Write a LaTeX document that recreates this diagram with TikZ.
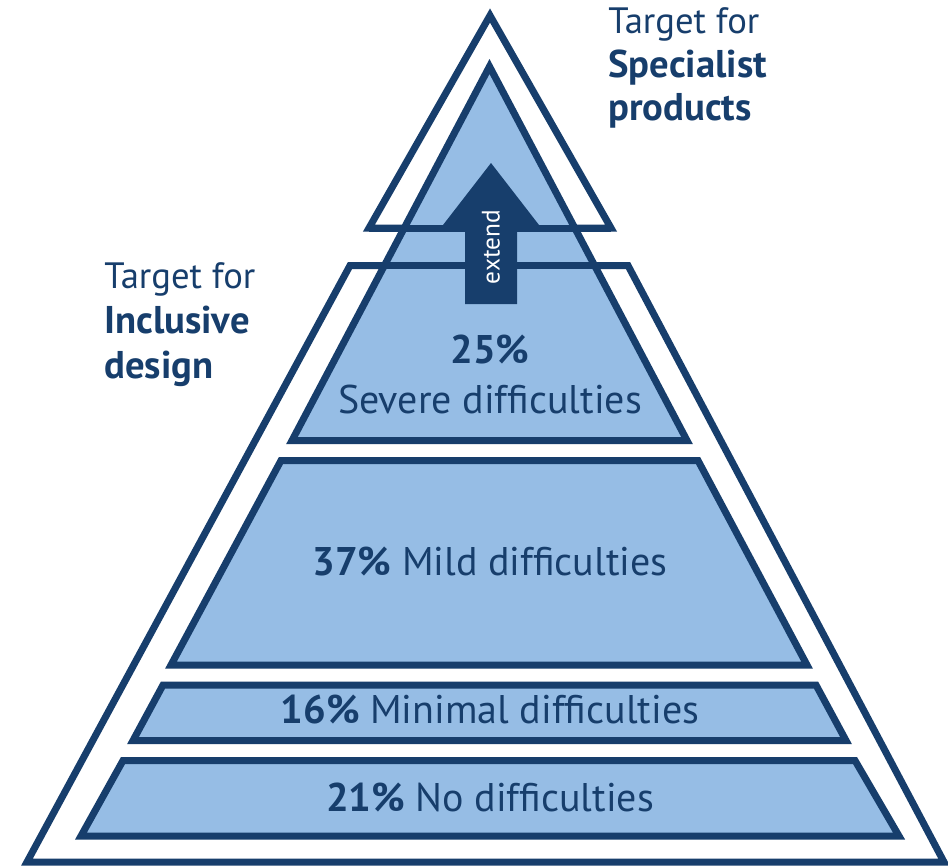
\documentclass[tikz,border=0pt]{standalone}
\usepackage{fontspec}
\setmainfont{PT Sans}
\definecolor{navy}{HTML}{173E6C}
\definecolor{fillblue}{HTML}{96BDE5}
\begin{document}
\begin{tikzpicture}[x=0.75pt,y=-0.75pt,line join=miter,
  outline/.style={draw=navy,line width=5.25pt},
  band/.style={fill=fillblue,draw=navy,line width=5.25pt},
  lbl/.style={text=navy,font=\fontsize{30}{36}\selectfont,inner sep=0pt,anchor=base},
  tgt/.style={text=navy,font=\fontsize{27.5}{32}\selectfont,inner sep=0pt,anchor=base west},
  tgtb/.style={text=navy,font=\fontsize{29}{32}\selectfont\bfseries,inner sep=0pt,anchor=base west}]
\useasboundingbox (0,0) rectangle (948,865);
% white outer shapes
\fill[white] (369,228) -- (490,15.5) -- (611,228) -- cycle;
\fill[white] (350,265.5) -- (628,265.5) -- (944,862) -- (27,862) -- cycle;
\draw[outline] (369,228) -- (490,15.5) -- (611,228) -- cycle;
\draw[outline] (350,265.5) -- (628,265.5) -- (944,862) -- (27,862) -- cycle;
% bands
\draw[band] (489.5,66.5) -- (687,440.5) -- (292,440.5) -- cycle;
\draw[band] (281,460.5) -- (698,460.5) -- (807,665) -- (171,665) -- cycle;
\draw[band] (163,685) -- (816,685) -- (846,740.5) -- (133,740.5) -- cycle;
\draw[band] (123,760.5) -- (855,760.5) -- (899,836) -- (81,836) -- cycle;
% outer lines crossing the top band
\draw[outline] (369,228) -- (611,228);
\draw[outline] (350,265.5) -- (628,265.5);
% arrow
\fill[navy] (491,163) -- (539,225) -- (517,225) -- (517,304) -- (465,304) -- (465,225) -- (443,225) -- cycle;
\node[rotate=90,text=white,font=\fontsize{19}{19}\selectfont,inner sep=0pt] (ext) at (491,247) {extend};
% labels
\node[lbl] (p25) at (490,363) {\bfseries 25\%};
\node[lbl] (sev) at (490,413) {Severe difficulties};
\node[lbl] (mild) at (490,575) {\textbf{37\%} Mild difficulties};
\node[lbl] (mini) at (490,723) {\textbf{16\%} Minimal difficulties};
\node[lbl] (none) at (490,811) {\textbf{21\%} No difficulties};
% targets
\node[tgt] (t1) at (608,33) {Target for};
\node[tgtb] (t2) at (608,77) {Specialist};
\node[tgtb] (t3) at (608,120) {products};
\node[tgt] (i1) at (104,288) {Target for};
\node[tgtb] (i2) at (104,333) {Inclusive};
\node[tgtb] (i3) at (104,378) {design};
\end{tikzpicture}
\end{document}
